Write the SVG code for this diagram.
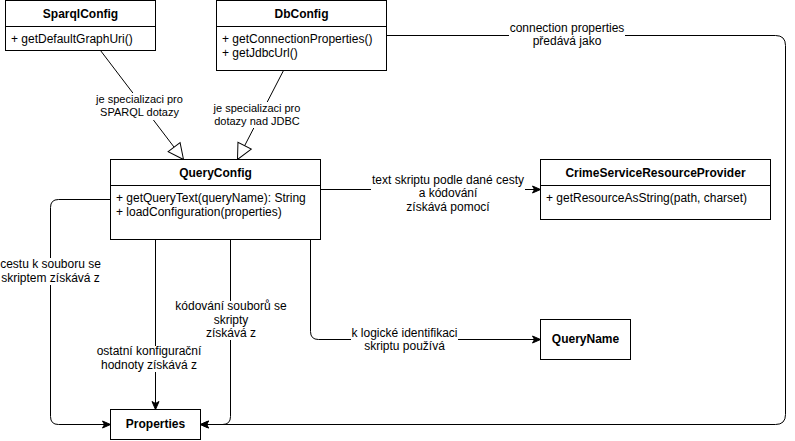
<svg xmlns="http://www.w3.org/2000/svg" width="795" height="441" viewBox="0 0 795 441">
<style>
text{font-family:"Liberation Sans",Arial,Helvetica,sans-serif;fill:#000}
.box{fill:#fff;stroke:#000;stroke-width:1}
.div{stroke:#000;stroke-width:1;fill:none}
.title{font-size:12px;font-weight:bold;text-anchor:middle}
.mem{font-size:12px}
.lbl{font-size:11px;text-anchor:middle}
.lbl12{font-size:12px;text-anchor:middle}
.edge{fill:none;stroke:#000;stroke-width:1}
.gen{marker-end:url(#hollow)}
.dep{marker-end:url(#arrow)}
.lblbg{fill:#fff;stroke:none}
</style>
<defs>
<marker id="hollow" markerUnits="userSpaceOnUse" markerWidth="18" markerHeight="18" refX="16" refY="8" orient="auto" overflow="visible">
<path d="M0.5,0.5 L16,8 L0.5,15.5 z" fill="#fff" stroke="#000" stroke-width="1"/>
</marker>
<marker id="arrow" markerUnits="userSpaceOnUse" markerWidth="10" markerHeight="10" refX="8" refY="3.5" orient="auto" overflow="visible">
<path d="M0,0 L8,3.5 L0,7 L2,3.5 z" fill="#000" stroke="#000" stroke-width="1"/>
</marker>
</defs>

<g id="connectors">
<path id="e-sparql-query" class="edge gen" d="M100.5,50.5 L183.5,159.5"/>
<path id="e-db-query" class="edge gen" d="M283.5,70.5 L237.5,159.5"/>
<path id="e-query-crime" class="edge dep" d="M320.5,189.5 L540.5,189.5"/>
<path id="e-query-props-path" class="edge dep" d="M110.5,199.5 L58.5,199.5 Q50.5,199.5 50.5,207.5 L50.5,416.5 Q50.5,424.5 58.5,424.5 L110.5,424.5"/>
<path id="e-query-props-other" class="edge dep" d="M155.5,239.5 L155.5,409.5"/>
<path id="e-query-props-enc" class="edge dep" d="M230.5,239.5 L230.5,416.5 Q230.5,424.5 222.5,424.5 L200.5,424.5"/>
<path id="e-query-name" class="edge dep" d="M310.5,239.5 L310.5,331.5 Q310.5,339.5 318.5,339.5 L540.5,339.5"/>
<path id="e-db-props" class="edge dep" d="M386.5,35.5 L775.5,35.5 Q785.5,35.5 785.5,45.5 L785.5,414.5 Q785.5,424.5 775.5,424.5 L200.5,424.5"/>
<g id="edge-labels">
<rect class="lblbg" x="95" y="93" width="89" height="27"/>
<text class="lbl" x="139.5" y="103">je specializaci pro</text>
<text class="lbl" x="139.5" y="116">SPARQL dotazy</text>
<rect class="lblbg" x="213" y="102" width="88" height="26"/>
<text class="lbl" x="257" y="112">je specializaci pro</text>
<text class="lbl" x="257" y="125">dotazy nad JDBC</text>
<rect class="lblbg" x="371" y="174" width="154" height="39"/>
<text class="lbl12" x="448" y="183.5">text skriptu podle dané cesty</text>
<text class="lbl12" x="448" y="197">a kódování</text>
<text class="lbl12" x="448" y="210.5">získává pomocí</text>
<rect class="lblbg" x="0" y="258" width="101" height="27"/>
<text class="lbl12" x="50.5" y="268">cestu k souboru se</text>
<text class="lbl12" x="50.5" y="281.5">skriptem získává z</text>
<rect class="lblbg" x="96" y="346" width="106" height="26"/>
<text class="lbl12" x="149" y="355">ostatní konfigurační</text>
<text class="lbl12" x="149" y="369">hodnoty získává z</text>
<rect class="lblbg" x="175" y="301" width="112" height="39"/>
<text class="lbl12" x="231" y="310">kódování souborů se</text>
<text class="lbl12" x="231" y="323.5">skripty</text>
<text class="lbl12" x="231" y="337">získává z</text>
<rect class="lblbg" x="351" y="327" width="107" height="26"/>
<text class="lbl12" x="404.5" y="336.5">k logické identifikaci</text>
<text class="lbl12" x="404.5" y="350">skriptu používá</text>
<rect class="lblbg" x="509" y="22" width="116" height="26"/>
<text class="lbl12" x="567" y="31.5">connection properties</text>
<text class="lbl12" x="567" y="45">předává jako</text>
</g>
</g>

<g id="SparqlConfig">
<rect class="box" x="5.5" y="0.5" width="150" height="50"/>
<line class="div" x1="5.5" y1="26.5" x2="155.5" y2="26.5"/>
<text class="title" x="80.5" y="18">SparqlConfig</text>
<text class="mem" x="11" y="43">+ getDefaultGraphUri()</text>
</g>

<g id="DbConfig">
<rect class="box" x="216.5" y="0.5" width="170" height="70"/>
<line class="div" x1="216.5" y1="26.5" x2="386.5" y2="26.5"/>
<text class="title" x="301.5" y="18">DbConfig</text>
<text class="mem" x="222" y="43">+ getConnectionProperties()</text>
<text class="mem" x="222" y="57">+ getJdbcUrl()</text>
</g>

<g id="QueryConfig">
<rect class="box" x="110.5" y="159.5" width="210" height="80"/>
<line class="div" x1="110.5" y1="185.5" x2="320.5" y2="185.5"/>
<text class="title" x="215.5" y="177">QueryConfig</text>
<text class="mem" x="116" y="202">+ getQueryText(queryName): String</text>
<text class="mem" x="116" y="216">+ loadConfiguration(properties)</text>
</g>

<g id="CrimeServiceResourceProvider">
<rect class="box" x="540.5" y="159.5" width="230" height="60"/>
<line class="div" x1="540.5" y1="185.5" x2="770.5" y2="185.5"/>
<text class="title" x="655.5" y="177">CrimeServiceResourceProvider</text>
<text class="mem" x="546" y="202">+ getResourceAsString(path, charset)</text>
</g>

<g id="Properties">
<rect class="box" x="110.5" y="409.5" width="90" height="30"/>
<text class="title" x="155.5" y="428">Properties</text>
</g>

<g id="QueryName">
<rect class="box" x="540.5" y="319.5" width="90" height="40"/>
<text class="title" x="585.5" y="343">QueryName</text>
</g>
</svg>
